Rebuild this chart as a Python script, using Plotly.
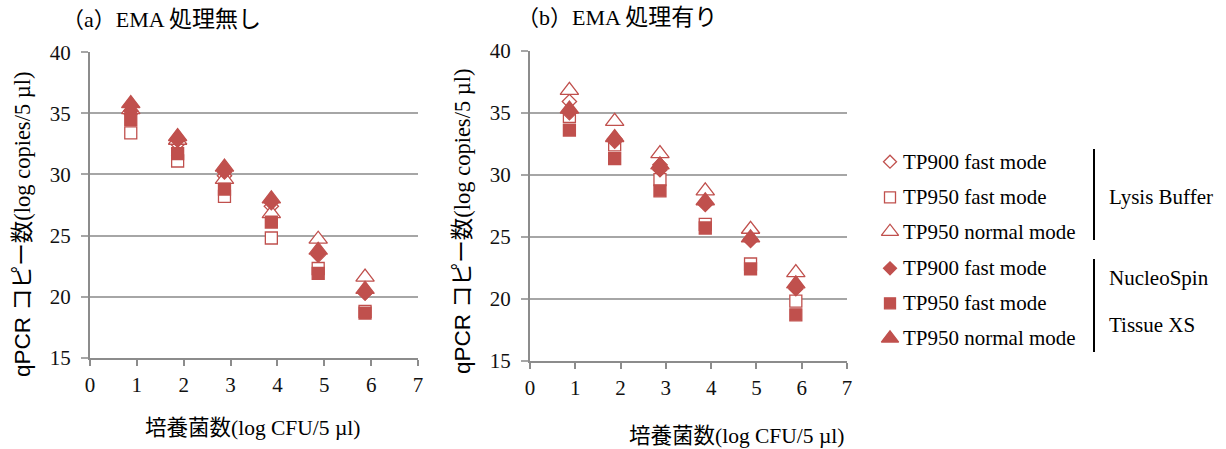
import plotly.graph_objects as go

# Culture count (log CFU / 5 µl) at each dilution step
x_cfu = [0.87, 1.87, 2.87, 3.87, 4.87, 5.87]

# (a) without EMA treatment — qPCR copies (log copies / 5 µl)
a_lysis_tp900_fast = [35.0, 32.5, 29.9, 27.4, 23.4, 20.3]
a_lysis_tp950_fast = [33.4, 31.1, 28.2, 24.8, 22.3, 18.8]
a_lysis_tp950_normal = [35.3, 32.8, 29.6, 26.8, 24.7, 21.6]
a_nucleo_tp900_fast = [35.2, 32.8, 30.2, 27.7, 23.5, 20.3]
a_nucleo_tp950_fast = [34.5, 31.7, 28.8, 26.1, 21.9, 18.65]
a_nucleo_tp950_normal = [35.8, 33.1, 30.6, 28.0, 23.8, 20.6]

# (b) with EMA treatment
b_lysis_tp900_fast = [35.9, 32.9, 30.8, 27.7, 24.8, 21.0]
b_lysis_tp950_fast = [34.7, 32.4, 29.6, 26.0, 22.8, 19.8]
b_lysis_tp950_normal = [36.8, 34.3, 31.7, 28.7, 25.6, 22.1]
b_nucleo_tp900_fast = [35.0, 32.7, 30.4, 27.6, 24.7, 20.8]
b_nucleo_tp950_fast = [33.6, 31.3, 28.7, 25.7, 22.4, 18.7]
b_nucleo_tp950_normal = [35.3, 33.0, 30.8, 27.9, 24.9, 21.2]

series_labels = ["TP900 fast mode", "TP950 fast mode", "TP950 normal mode",
                 "TP900 fast mode", "TP950 fast mode", "TP950 normal mode"]
group_labels = ["Lysis Buffer", "NucleoSpin", "Tissue XS"]
x_ticks = [0, 1, 2, 3, 4, 5, 6, 7]
y_ticks = [15, 20, 25, 30, 35, 40]

W, H = 1226, 449
RED = "#C0504D"
AXIS = "#8C8C8C"
GRID = "#A6A6A6"
SERIF = "Liberation Serif, Times New Roman, Noto Sans CJK JP, serif"

# marker style for each series: (symbol, filled?, size)
styles = [("diamond", False, 11), ("square", False, 12), ("triangle-up", False, 16),
          ("diamond", True, 11), ("square", True, 12), ("triangle-up", True, 16)]


def marker(style, shrink=0):
    sym, filled, size = style
    return dict(symbol=sym, size=size - shrink,
                color=RED if filled else "white",
                line=dict(color=RED, width=1.3))


fig = go.Figure()

panel_a = [a_lysis_tp900_fast, a_lysis_tp950_fast, a_lysis_tp950_normal,
           a_nucleo_tp900_fast, a_nucleo_tp950_fast, a_nucleo_tp950_normal]
panel_b = [b_lysis_tp900_fast, b_lysis_tp950_fast, b_lysis_tp950_normal,
           b_nucleo_tp900_fast, b_nucleo_tp950_fast, b_nucleo_tp950_normal]

for ys, st, name in zip(panel_a, styles, series_labels):
    fig.add_trace(go.Scatter(x=x_cfu, y=ys, mode="markers", marker=marker(st),
                             name=name, showlegend=False, xaxis="x", yaxis="y"))
for ys, st, name in zip(panel_b, styles, series_labels):
    fig.add_trace(go.Scatter(x=x_cfu, y=ys, mode="markers", marker=marker(st),
                             name=name, showlegend=False, xaxis="x2", yaxis="y2"))

# key: markers placed on a pixel-unit axis confined to the key area
KEY_L, KEY_T, KEY_B = 860, 140, 360
key_x = 890
key_rows = [161.7, 197.3, 231.7, 268.3, 303.3, 338.3]
for row, st, name in zip(key_rows, styles, series_labels):
    fig.add_trace(go.Scatter(x=[key_x], y=[row], mode="markers", marker=marker(st, 1),
                             name=name, showlegend=False, hoverinfo="skip",
                             xaxis="x3", yaxis="y3"))


def tickfont():
    return dict(family="Liberation Serif", size=21, color="#111111")


def xaxis_spec(domain, anchor):
    return dict(domain=domain, anchor=anchor, range=[0, 7], tickvals=x_ticks,
                showline=True, linecolor=AXIS, linewidth=2,
                ticks="outside", ticklen=6, tickcolor=AXIS, tickwidth=1.5,
                ticklabelstandoff=1, automargin=False,
                showgrid=False, zeroline=False, tickfont=tickfont())


def yaxis_spec(domain, anchor):
    return dict(domain=domain, anchor=anchor, range=[15, 40], tickvals=y_ticks,
                showline=True, linecolor=AXIS, linewidth=2,
                ticks="outside", ticklen=7, tickcolor=GRID, tickwidth=1.5,
                ticklabelstandoff=6, automargin=False,
                showgrid=True, gridcolor=GRID, gridwidth=1.5, zeroline=False,
                tickfont=tickfont())


fig.update_layout(
    width=W, height=H,
    margin=dict(l=0, r=0, t=0, b=0, autoexpand=False),
    paper_bgcolor="white", plot_bgcolor="rgba(0,0,0,0)",
    xaxis=xaxis_spec([90 / W, 418 / W], "y"),
    yaxis=yaxis_spec([1 - 357.7 / H, 1 - 52.3 / H], "x"),
    xaxis2=xaxis_spec([530 / W, 847 / W], "y2"),
    yaxis2=yaxis_spec([1 - 360.7 / H, 1 - 50.7 / H], "x2"),
    xaxis3=dict(domain=[KEY_L / W, 1], range=[KEY_L, W], visible=False, anchor="y3"),
    yaxis3=dict(domain=[1 - KEY_B / H, 1 - KEY_T / H], range=[KEY_B, KEY_T],
                visible=False, anchor="x3"),
)


def ann(text, x, y, size, xanchor="left", angle=0, family=SERIF):
    fig.add_annotation(text=text, x=x / W, y=1 - y / H, xref="paper", yref="paper",
                       xanchor=xanchor, yanchor="middle", showarrow=False,
                       textangle=angle, font=dict(family=family, size=size, color="#000"))


# panel titles
ann("（a）EMA <span style=\"font-size:23px\">処理無し</span>", 60, 20, 22)
ann("（b）EMA <span style=\"font-size:23px\">処理有り</span>", 515, 18, 22)

# axis titles
ytitle = ('<span style="font-family:Liberation Sans, Arial, Noto Sans CJK JP">qPCR コピー数</span>'
          '<span style="font-family:Liberation Serif, Times New Roman">(log copies/5 µl)</span>')
ann(ytitle, 22, 225, 22.5, xanchor="center", angle=-90)
ann(ytitle, 462, 222, 22.5, xanchor="center", angle=-90)
xtitle = ('<span style="font-family:Noto Sans CJK JP">培養菌数</span>'
          '<span style="font-family:Liberation Serif, Times New Roman">(log CFU/5 µl)</span>')
ann(xtitle, 252, 425, 21.5, xanchor="center")
ann(xtitle, 736, 433, 21.5, xanchor="center")

# key labels
for row, name in zip(key_rows, series_labels):
    ann(name, 901, row, 21)
ann(group_labels[0], 1107, 197, 21)
ann(group_labels[1], 1107, 278, 21)
ann(group_labels[2], 1107, 325, 21)

# bracket lines grouping the key entries
for y0, y1 in [(149, 240), (259, 352)]:
    fig.add_shape(type="line", xref="paper", yref="paper",
                  x0=1094 / W, x1=1094 / W, y0=1 - y0 / H, y1=1 - y1 / H,
                  line=dict(color="black", width=2))

fig.write_html("out.html")
